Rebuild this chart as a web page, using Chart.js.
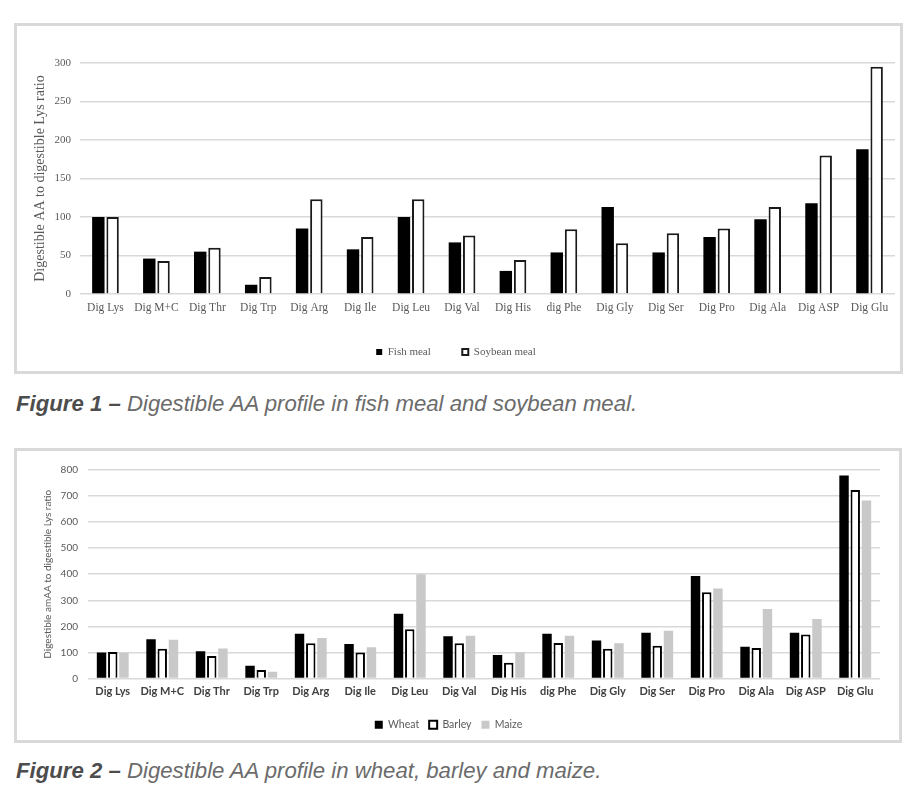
<!DOCTYPE html>
<html>
<head>
<meta charset="utf-8">
<script src="https://cdn.jsdelivr.net/npm/chart.js@4/dist/chart.umd.min.js"></script>
<style>
html,body{margin:0;padding:0;background:#fff;}
#wrap{position:relative;width:918px;height:792px;overflow:hidden;background:#fff;}
.frame{position:absolute;box-sizing:border-box;border:3px solid #d9d9d9;background:#fff;}
canvas{position:absolute;}
.cap{position:absolute;left:16px;font-family:"Liberation Sans",Arial,sans-serif;font-style:italic;font-size:22.2px;line-height:24px;color:#6b6b6b;white-space:nowrap;}
.cap b{color:#4d4d4d;}
</style>
</head>
<body>
<div id="wrap">
  <div class="frame" style="left:14px;top:23px;width:889px;height:351px;"></div>
  <canvas id="c1" width="883" height="345" style="left:17px;top:26px;width:883px;height:345px;"></canvas>
  <div class="cap" style="top:392px;"><b>Figure 1 –</b> Digestible AA profile in fish meal and soybean meal.</div>
  <div class="frame" style="left:14px;top:448px;width:888px;height:295px;"></div>
  <canvas id="c2" width="882" height="289" style="left:17px;top:451px;width:882px;height:289px;"></canvas>
  <div class="cap" style="top:759px;"><b>Figure 2 –</b> Digestible AA profile in wheat, barley and maize.</div>
</div>
<script>
// ---- Data ----
const categories = ["Dig Lys","Dig M+C","Dig Thr","Dig Trp","Dig Arg","Dig Ile","Dig Leu","Dig Val","Dig His","dig Phe","Dig Gly","Dig Ser","Dig Pro","Dig Ala","Dig ASP","Dig Glu"];
const categories1 = ["Dig Lys","Dig M+C","Dig Thr","Dig Trp","Dig Arg","Dig Ile","Dig Leu","Dig Val","Dig His","dig Phe","Dig Gly","Dig Ser","Dig Pro","Dig Ala","Dig ASP","Dig Glu"];
const fishMeal    = [100, 46, 55, 12, 85, 58, 100, 67, 30, 54, 113, 54, 74, 97, 118, 188];
const soybeanMeal = [100, 43, 60, 22, 123, 74, 123, 76, 44, 84, 66, 79, 85, 113, 180, 295];
const wheat  = [100, 151, 105, 49, 172, 132, 248, 162, 90, 172, 146, 176, 393, 122, 176, 779];
const barley = [102, 114, 86, 33, 135, 100, 189, 135, 60, 136, 114, 126, 331, 117, 169, 723];
const maize  = [99, 149, 115, 26, 155, 120, 400, 164, 101, 164, 135, 183, 345, 267, 228, 683];
const yTicks1 = {min: 0, max: 300, step: 50};
const yTicks2 = {min: 0, max: 800, step: 100};

Chart.defaults.animation = false;
Chart.defaults.devicePixelRatio = 1;

const serif = "'Liberation Serif','Times New Roman',serif";
const sans = "Lato,'Liberation Sans',sans-serif";

new Chart(document.getElementById('c1'), {
  type: 'bar',
  data: {
    labels: categories1,
    datasets: [
      {label: 'Fish meal', data: fishMeal, backgroundColor: '#000', borderColor: '#000', borderWidth: 0},
      {label: 'Soybean meal', data: soybeanMeal, backgroundColor: '#fff', borderColor: '#1a1a1a', borderWidth: 2}
    ]
  },
  options: {
    responsive: false,
    layout: {padding: {left: 0, right: 5, top: 37, bottom: 3.5}},
    datasets: {bar: {categoryPercentage: 0.56, barPercentage: 0.87}},
    plugins: {
      tooltip: {enabled: false},
      legend: {
        position: 'bottom',
        labels: {boxWidth: 6, boxHeight: 6, padding: 31.5, color: '#595959', font: {family: serif, size: 11}}
      }
    },
    scales: {
      x: {
        grid: {display: false, drawTicks: false},
        border: {display: false},
        ticks: {padding: 7, color: '#595959', font: {family: serif, size: 11.5}, maxRotation: 0, autoSkip: false},
        afterFit: s => { s.height = 21; }
      },
      y: {
        min: yTicks1.min, max: yTicks1.max,
        grid: {color: '#d9d9d9', lineWidth: 1.6, drawTicks: false},
        border: {display: false},
        ticks: {stepSize: yTicks1.step, padding: 9, color: '#595959', font: {family: serif, size: 11}},
        title: {display: true, text: 'Digestible AA to digestible Lys ratio', color: '#595959', font: {family: serif, size: 14}, padding: {top: 14.6, bottom: 0}},
        afterFit: s => { s.width = 63; }
      }
    }
  }
});

new Chart(document.getElementById('c2'), {
  type: 'bar',
  data: {
    labels: categories,
    datasets: [
      {label: 'Wheat', data: wheat, backgroundColor: '#000', borderColor: '#000', borderWidth: 0},
      {label: 'Barley', data: barley, backgroundColor: '#fff', borderColor: '#000', borderWidth: 2},
      {label: 'Maize', data: maize, backgroundColor: '#c9c9c9', borderColor: '#c9c9c9', borderWidth: 0}
    ]
  },
  options: {
    responsive: false,
    layout: {padding: {left: 0, right: 19, top: 19, bottom: 0}},
    datasets: {bar: {categoryPercentage: 0.68, barPercentage: 0.84}},
    plugins: {
      tooltip: {enabled: false},
      legend: {
        position: 'bottom',
        labels: {boxWidth: 8, boxHeight: 8, padding: 10, color: '#595959', font: {family: sans, size: 10.5}}
      }
    },
    scales: {
      x: {
        grid: {display: false, drawTicks: false},
        border: {display: false},
        ticks: {padding: 6, color: '#404040', font: {family: sans, size: 11, weight: 'bold'}, maxRotation: 0, autoSkip: false},
        afterFit: s => { s.height = 31; }
      },
      y: {
        min: yTicks2.min, max: yTicks2.max,
        grid: {color: '#d9d9d9', lineWidth: 1.6, drawTicks: false},
        border: {display: false},
        ticks: {stepSize: yTicks2.step, padding: 10, color: '#595959', font: {family: sans, size: 10}},
        title: {display: true, text: 'Digestible amAA to digestible Lys ratio', color: '#595959', font: {family: sans, size: 10}, padding: {top: 25, bottom: 0}},
        afterFit: s => { s.width = 71; }
      }
    }
  }
});
</script>
</body>
</html>
